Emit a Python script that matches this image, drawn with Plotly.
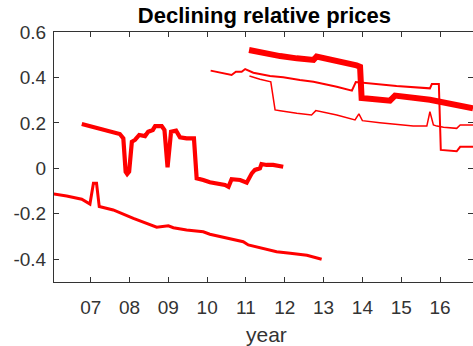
import plotly.graph_objects as go

# Relative price series (x = year since 2000, y = log relative price)
a_year = [6.77, 7.75, 7.84, 7.90, 7.94, 7.99, 8.06, 8.14, 8.25, 8.40, 8.48, 8.60, 8.66, 8.83,
          8.90, 8.98, 9.07, 9.20, 9.30, 9.47, 9.66, 9.73, 9.90, 10.07, 10.46, 10.55, 10.63,
          10.85, 11.02, 11.15, 11.23, 11.36, 11.40, 11.53, 11.70, 11.96]
a_val = [0.195, 0.151, 0.132, -0.015, -0.025, -0.015, 0.117, 0.125, 0.147, 0.142, 0.161, 0.169,
         0.186, 0.186, 0.169, 0.005, 0.161, 0.166, 0.137, 0.132, 0.132, -0.044, -0.051, -0.061,
         -0.073, -0.081, -0.048, -0.051, -0.063, -0.022, -0.007, 0.0, 0.019, 0.015, 0.015, 0.007]

b_year = [6.05, 6.38, 6.77, 6.98, 7.07, 7.15, 7.22, 7.58, 8.10, 8.44, 8.70, 9.00, 9.13, 9.47,
          9.90, 10.07, 10.50, 10.67, 10.93, 11.06, 11.62, 11.79, 12.14, 12.57, 12.95]
b_val = [-0.113, -0.122, -0.136, -0.157, -0.066, -0.066, -0.168, -0.183, -0.220, -0.242, -0.259,
         -0.253, -0.261, -0.271, -0.279, -0.290, -0.305, -0.312, -0.323, -0.337, -0.362, -0.367,
         -0.374, -0.382, -0.400]

c_year = [10.09, 10.42, 10.63, 10.74, 10.89, 10.98, 11.19, 11.62, 11.96, 12.39, 12.74, 13.34,
          13.73, 13.83, 14.30, 14.88, 15.74, 15.79, 15.97, 16.02, 16.43, 16.52, 16.85]
c_val = [0.430, 0.418, 0.411, 0.425, 0.425, 0.437, 0.421, 0.406, 0.401, 0.389, 0.381, 0.359,
         0.342, 0.380, 0.372, 0.362, 0.352, 0.371, 0.371, 0.081, 0.075, 0.095, 0.095]

d_year = [11.09, 11.36, 11.64, 11.75, 11.88, 12.31, 12.69, 12.80, 13.34, 13.81, 13.91, 14.00,
          14.45, 15.31, 15.66, 15.74, 15.83, 15.92, 16.09, 16.43, 16.52, 16.85]
d_val = [0.406, 0.392, 0.381, 0.257, 0.254, 0.242, 0.235, 0.254, 0.235, 0.213, 0.240, 0.210,
         0.201, 0.186, 0.186, 0.249, 0.191, 0.186, 0.181, 0.176, 0.191, 0.191]

e_year = [11.08, 11.62, 11.88, 12.31, 12.74, 12.82, 13.34, 13.85, 13.94, 13.98, 14.71, 14.84,
          15.74, 16.17, 16.85]
e_val = [0.521, 0.499, 0.494, 0.484, 0.477, 0.492, 0.475, 0.453, 0.447, 0.310, 0.298, 0.320,
         0.302, 0.286, 0.264]

tick_years = [7, 8, 9, 10, 11, 12, 13, 14, 15, 16]
tick_labels = ["07", "08", "09", "10", "11", "12", "13", "14", "15", "16"]
y_ticks = [-0.4, -0.2, 0, 0.2, 0.4, 0.6]
y_labels = ["-0.4", "-0.2", "0", "0.2", "0.4", "0.6"]

series = [
    (b_year, b_val, 3.0),
    (a_year, a_val, 4.2),
    (c_year, c_val, 2.0),
    (d_year, d_val, 1.5),
    (e_year, e_val, 6.0),
]

fig = go.Figure()
for xs, ys, w in series:
    fig.add_trace(go.Scatter(x=xs, y=ys, mode="lines",
                             line=dict(color="#ff0000", width=w),
                             showlegend=False, hoverinfo="skip"))

font_family = "Liberation Sans, Arial, sans-serif"
axis_color = "#333333"

fig.update_layout(
    width=473, height=346,
    margin=dict(l=54, r=0, t=32, b=64),
    paper_bgcolor="white", plot_bgcolor="white",
    font=dict(family=font_family, size=19, color=axis_color),
    title=dict(text="<b>Declining relative prices</b>", x=0.559, xanchor="center",
               y=1 - 15 / 346, yanchor="middle", yref="container",
               font=dict(size=22, color="#000000", family=font_family)),
    annotations=[dict(text="year", xref="paper", yref="paper", x=0.508, y=-52 / 250,
                      xanchor="center", yanchor="middle", showarrow=False,
                      font=dict(size=21, color=axis_color, family=font_family))],
)
fig.update_xaxes(range=[6.054, 16.85], tickvals=tick_years, ticktext=tick_labels,
                 showgrid=False, zeroline=False, showline=True, linecolor=axis_color,
                 linewidth=1, mirror="ticks", ticks="inside", ticklen=5,
                 tickcolor=axis_color, ticklabelstandoff=8)
fig.update_yaxes(range=[-0.5, 0.6], tickvals=y_ticks, ticktext=y_labels,
                 showgrid=False, zeroline=False, showline=True, linecolor=axis_color,
                 linewidth=1, mirror="ticks", ticks="inside", ticklen=5,
                 tickcolor=axis_color, ticklabelstandoff=3)

fig.write_html("out.html")
